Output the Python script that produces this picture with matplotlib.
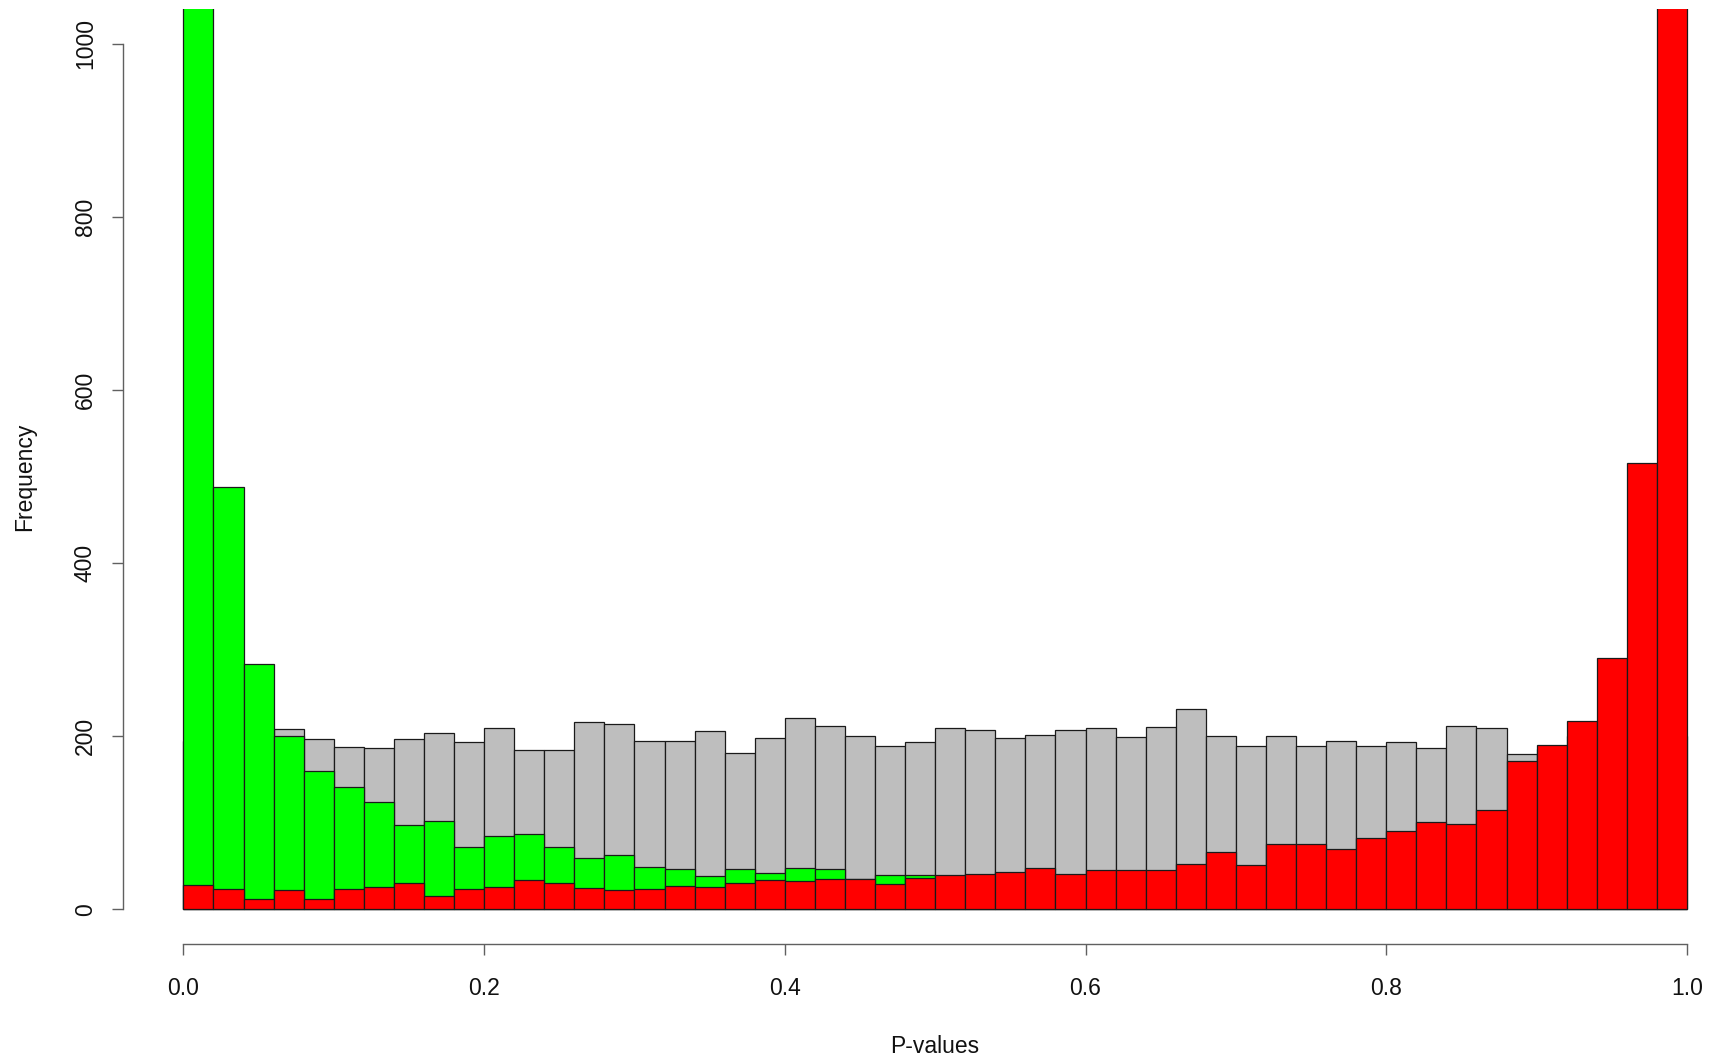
import numpy as np
import matplotlib
matplotlib.use("Agg")
import matplotlib.pyplot as plt

plt.rcParams['font.family'] = ['Liberation Sans', 'DejaVu Sans']

# p-value histograms, 50 bins of width 0.02 over [0, 1]
bin_edges = np.linspace(0, 1, 51)

# all tests (grey), drawn first
grey_counts = [194, 200, 200, 208, 197, 188, 186, 197, 204, 193,
               209, 184, 184, 216, 214, 195, 195, 206, 181, 198,
               221, 212, 200, 189, 193, 209, 207, 198, 202, 207,
               209, 199, 211, 232, 200, 189, 200, 189, 195, 189,
               193, 187, 212, 210, 179, 185, 200, 200, 200, 200]

# one direction (green)
green_counts = [1500, 488, 283, 200, 160, 141, 124, 98, 102, 72,
                85, 87, 72, 59, 63, 49, 47, 39, 47, 42,
                48, 47, 35, 40, 40, 0, 0, 0, 0, 0,
                0, 0, 0, 0, 0, 0, 0, 0, 0, 0,
                0, 0, 0, 0, 0, 0, 0, 0, 0, 0]

# other direction (red), drawn last
red_counts = [28, 24, 12, 22, 12, 24, 26, 30, 16, 24,
              26, 34, 30, 25, 22, 24, 27, 26, 30, 34,
              33, 35, 35, 29, 36, 40, 41, 43, 48, 41,
              45, 45, 45, 52, 66, 51, 75, 75, 70, 82,
              90, 101, 99, 115, 171, 190, 218, 290, 516, 1300]

x_ticks = [0.0, 0.2, 0.4, 0.6, 0.8, 1.0]
y_ticks = [0, 200, 400, 600, 800, 1000]

FS = 16.5
EDGE = '#1a1a1a'

fig = plt.figure(figsize=(17.12, 10.58), dpi=100)
ax = fig.add_axes([0.0720, 0.1077, 0.9485, 0.8838])

left = bin_edges[:-1]
width = np.diff(bin_edges)
for counts, col in [(grey_counts, '#BEBEBE'), (green_counts, '#00FF00'), (red_counts, '#FF0000')]:
    ax.bar(left, counts, width=width, align='edge', color=col,
           edgecolor=EDGE, linewidth=0.9)

ax.set_xlim(-0.04, 1.04)
ax.set_ylim(-40, 1040)

for s in ['top', 'right']:
    ax.spines[s].set_visible(False)
ax.spines['left'].set_bounds(0, 1000)
ax.spines['bottom'].set_bounds(0, 1)
for s in ['left', 'bottom']:
    ax.spines[s].set_color('#606060')
    ax.spines[s].set_linewidth(1.0)

ax.set_xticks(x_ticks)
ax.set_xticklabels([f"{v:.1f}" for v in x_ticks])
ax.set_yticks(y_ticks)
ax.set_yticklabels([str(v) for v in y_ticks], rotation=90, va='center')
ax.tick_params(axis='both', direction='out', length=8, width=1.0,
               color='#606060', labelsize=FS, labelcolor='#111111')
ax.tick_params(axis='x', pad=16)
ax.tick_params(axis='y', pad=11)

fig.text(935 / 1712, 1 - 1053 / 1058, "P-values", fontsize=FS,
         ha='center', va='baseline', color='#111111')
fig.text(25 / 1712, 1 - 476.6 / 1058, "Frequency", fontsize=FS,
         ha='center', va='center', rotation=90, color='#111111')

fig.savefig("out.png", dpi=100)
